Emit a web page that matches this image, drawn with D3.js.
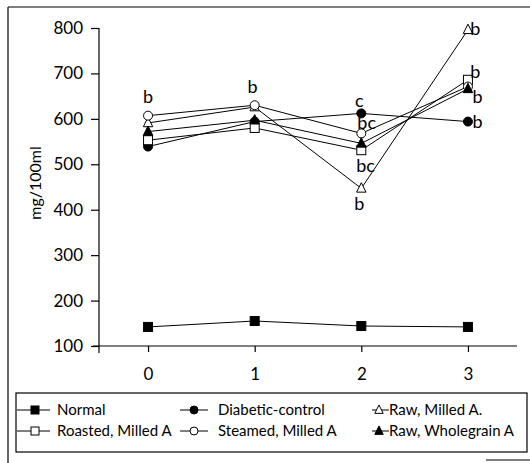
<!DOCTYPE html>
<html lang="en">
<head>
  <meta charset="UTF-8">
  <title>mg/100ml line chart</title>
  <script src="https://d3js.org/d3.v7.min.js"></script>
  <style>
    body { margin: 0; background: #fff; }
    text { font-family: Lato, "Open Sans", sans-serif; fill: #000; }
  </style>
</head>
<body>
  <div id="chart"></div>
  <script>

  // data
  const periods = [0, 1, 2, 3];
  const normal      = [142, 155, 144, 142];
  const diabetic    = [539, 594, 612, 594];
  const rawMilled   = [591, 626, 447, 796];
  const roasted     = [553, 580, 531, 686];
  const steamed     = [607, 630, 568, 671];
  const rawWhole    = [572, 597, 546, 666];
  const yTicks = [100, 200, 300, 400, 500, 600, 700, 800];

  // significance letters (x period, y value in mg/100ml)
  const letters = [
    {x: 0,     y: 635, t: "b"},
    {x: 0.98,  y: 657, t: "b"},
    {x: 1.98,  y: 626, t: "c"},
    {x: 2.05,  y: 578, t: "bc"},
    {x: 2.04,  y: 483, t: "bc"},
    {x: 1.98,  y: 399, t: "b"},
    {x: 3.07,  y: 785, t: "b"},
    {x: 3.07,  y: 690, t: "b"},
    {x: 3.09,  y: 635, t: "b"},
    {x: 3.09,  y: 580, t: "b"}
  ];

  const series = [
    {name: "Normal",             values: normal,    shape: "square",   fill: "#000"},
    {name: "Diabetic-control",   values: diabetic,  shape: "circle",   fill: "#000"},
    {name: "Raw, Milled A.",     values: rawMilled, shape: "triangle", fill: "#fff"},
    {name: "Roasted, Milled A",  values: roasted,   shape: "square",   fill: "#fff"},
    {name: "Steamed, Milled A",  values: steamed,   shape: "circle",   fill: "#fff"},
    {name: "Raw, Wholegrain A",  values: rawWhole,  shape: "triangle", fill: "#000"}
  ];

  const width = 530, height = 463;

  const svg = d3.select("#chart").append("svg")
      .attr("width", width)
      .attr("height", height);

  // outer frame pieces of the scanned figure
  svg.append("line").attr("x1", 8).attr("y1", 7).attr("x2", 530).attr("y2", 7)
     .attr("stroke", "#000").attr("stroke-width", 1.2);
  svg.append("line").attr("x1", 8).attr("y1", 7).attr("x2", 8).attr("y2", 463)
     .attr("stroke", "#000").attr("stroke-width", 1.2);
  svg.append("line").attr("x1", 486).attr("y1", 460).attr("x2", 530).attr("y2", 460)
     .attr("stroke", "#000").attr("stroke-width", 1);

  const x = d3.scaleLinear().domain([-0.46, 3.46]).range([99, 517]);
  const y = d3.scaleLinear().domain([100, 800]).range([346, 28]);

  // axes
  const yAxis = svg.append("g")
      .attr("transform", "translate(99,0)")
      .call(d3.axisLeft(y).tickValues(yTicks).tickSize(8).tickPadding(8).tickSizeOuter(0));
  yAxis.select(".domain").attr("d", "M0," + y(800) + "V" + (y(100) + 7));

  const xAxis = svg.append("g")
      .attr("transform", "translate(0,346)")
      .call(d3.axisBottom(x).tickValues(periods).tickFormat(d3.format("d"))
            .tickSize(6).tickPadding(16).tickSizeOuter(0));
  xAxis.select(".domain").attr("d", "M93,0H517");

  svg.selectAll(".tick text").style("font-size", "17px").style("font-family", "Lato, sans-serif");
  svg.selectAll(".domain, .tick line").attr("stroke", "#000").attr("stroke-width", 1.2);

  svg.append("text")
      .attr("transform", "translate(41," + 183 + ") rotate(-90)")
      .attr("text-anchor", "middle")
      .style("font-size", "16px")
      .text("mg/100ml");

  // marker drawing
  function marker(g, shape, fill, size) {
    if (shape === "square") {
      g.append("rect").attr("x", -size / 2).attr("y", -size / 2)
        .attr("width", size).attr("height", size);
    } else if (shape === "circle") {
      g.append("circle").attr("r", size / 2);
    } else {
      const s = size * 1.05;
      g.append("path").attr("d", "M0," + (-s * 0.6) + "L" + (s / 2) + "," + (s * 0.4) + "L" + (-s / 2) + "," + (s * 0.4) + "Z");
    }
    g.selectAll("*").attr("fill", fill).attr("stroke", "#000").attr("stroke-width", 1);
  }

  const line = d3.line()
      .x((d, i) => x(periods[i]))
      .y(d => y(d));

  series.forEach(s => {
    svg.append("path")
       .datum(s.values)
       .attr("d", line)
       .attr("fill", "none")
       .attr("stroke", "#000")
       .attr("stroke-width", 1);
  });

  series.forEach(s => {
    s.values.forEach((v, i) => {
      const g = svg.append("g").attr("transform", "translate(" + x(periods[i]) + "," + y(v) + ")");
      marker(g, s.shape, s.fill, 9);
    });
  });

  // letters
  svg.selectAll(".letter")
     .data(letters)
     .enter().append("text")
       .attr("class", "letter")
       .attr("x", d => x(d.x))
       .attr("y", d => y(d.y))
       .attr("text-anchor", "middle")
       .style("font-size", "18px")
       .text(d => d.t);

  // legend
  const legend = svg.append("g");
  legend.append("rect")
     .attr("x", 16).attr("y", 393).attr("width", 511).attr("height", 59)
     .attr("fill", "none").attr("stroke", "#000").attr("stroke-width", 1.2);

  const legendCols = [
    {x1: 17, x2: 50, mx: 35, tx: 57},
    {x1: 180, x2: 208, mx: 194, tx: 218},
    {x1: 372, x2: 389, mx: 379, tx: 389}
  ];
  const legendRows = [415, 436];

  series.forEach((s, i) => {
    const c = legendCols[i % 3], ry = legendRows[Math.floor(i / 3)];
    const cy = ry - 5;
    legend.append("line").attr("x1", c.x1).attr("x2", c.x2).attr("y1", cy).attr("y2", cy)
       .attr("stroke", "#000").attr("stroke-width", 1);
    const g = legend.append("g").attr("transform", "translate(" + c.mx + "," + cy + ")");
    marker(g, s.shape, s.fill, 8);
    legend.append("text").attr("x", c.tx).attr("y", ry)
       .style("font-size", "15px")
       .text(s.name);
  });

  </script>
</body>
</html>
